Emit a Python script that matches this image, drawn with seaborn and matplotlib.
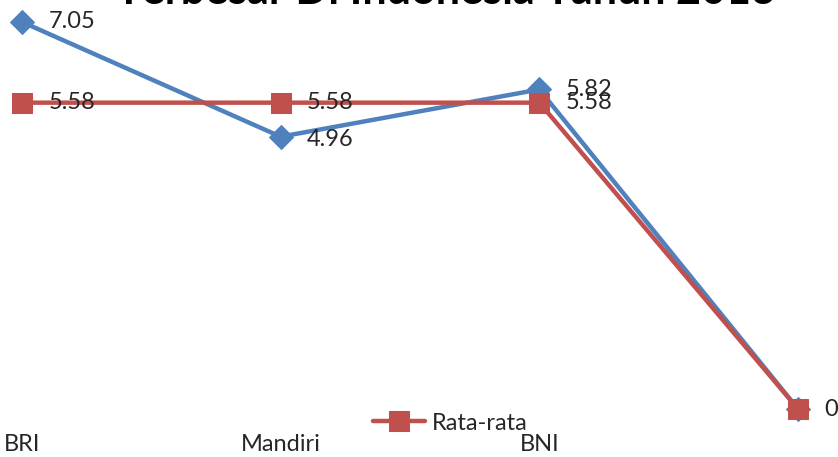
import matplotlib
matplotlib.use("Agg")
import matplotlib.pyplot as plt
import seaborn as sns
import pandas as pd

categories = ["BRI", "Mandiri", "BNI", ""]
nilai = [7.05, 4.96, 5.82, 0]
rata_rata = [5.58, 5.58, 5.58, 0]
title = "Terbesar Di Indonesia Tahun 2013"

sns.set_theme(style="white")
plt.rcParams["font.family"] = ["Lato", "DejaVu Sans"]

BLUE = "#4F81BD"
RED = "#C0504D"

df = pd.DataFrame({"kategori": categories, "Nilai": nilai, "Rata-rata": rata_rata})
df["pos"] = range(len(categories))

fig = plt.figure(figsize=(8.38, 4.57), dpi=100)
ax = fig.add_axes([0, 30 / 457, 1, 427 / 457])

sns.lineplot(data=df, x="pos", y="Nilai", ax=ax, color=BLUE, linewidth=3.2,
             marker="D", markersize=12, markeredgecolor=BLUE, label="_nolegend_")
sns.lineplot(data=df, x="pos", y="Rata-rata", ax=ax, color=RED, linewidth=3.2,
             marker="s", markersize=14, markeredgecolor=RED, label="Rata-rata")

for i, v in enumerate(nilai):
    dy = -2 if 0 < v < 5.58 else 0
    if v == 0:
        continue
    ax.annotate(f"{v:g}", (i, v), xytext=(19, dy), textcoords="offset points",
                va="center", ha="left", fontsize=17, color="#262626")
for i, v in enumerate(rata_rata):
    ax.annotate(f"{v:g}", (i, v), xytext=(19, 0), textcoords="offset points",
                va="center", ha="left", fontsize=17, color="#262626")

ax.set_xlim(-22 / 258.67, 816 / 258.67)
ax.set_ylim(-18 / 54.9, 409 / 54.9)
ax.set_xticks(df["pos"])
ax.set_xticklabels(categories, fontsize=17, color="#262626")
ax.tick_params(axis="x", length=0, pad=5)
ax.set_yticks([])
ax.set_xlabel("")
ax.set_ylabel("")
for s in ax.spines.values():
    s.set_visible(False)

if ax.legend_:
    ax.legend_.remove()
handles, labels = ax.get_legend_handles_labels()
fig.legend(handles, labels, loc="center", bbox_to_anchor=(450 / 838, 34 / 457),
           frameon=False, fontsize=17, handlelength=2.2, handletextpad=0.3,
           labelcolor="#262626")

fig.text(445.5 / 838, 1 - 3.5 / 457, title, ha="center", va="baseline",
         fontsize=31, fontweight="bold", color="#000000")

fig.savefig("out.png", dpi=100, facecolor="white")
